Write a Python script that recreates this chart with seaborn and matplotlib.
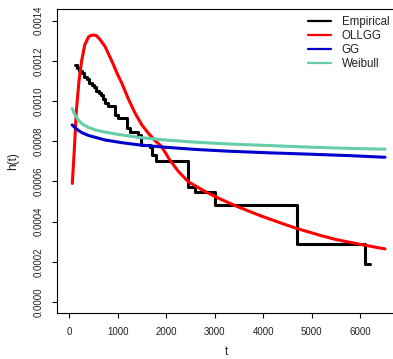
import matplotlib
matplotlib.use("Agg")
import matplotlib.pyplot as plt
from matplotlib.lines import Line2D
import seaborn as sns

# Empirical hazard (step function knots)
emp_t = [111, 160, 210, 260, 310, 360, 410, 460, 510, 560, 610, 661, 700, 737,
         806, 943, 1012, 1185, 1250, 1420, 1480, 1666, 1700, 1790, 2457, 2595,
         3007, 4693, 6103, 6207]
emp_h = [0.00118, 0.001165, 0.00115, 0.00114, 0.00112, 0.00111, 0.00109, 0.00108,
         0.00107, 0.00105, 0.00104, 0.00103, 0.00101, 0.00099, 0.000975, 0.00093,
         0.000914, 0.000865, 0.000845, 0.00083, 0.00078, 0.000773, 0.00073,
         0.000703, 0.000574, 0.000549, 0.000483, 0.000289, 0.000189, 0.000189]

# OLLGG fitted hazard
ollgg_t = [62, 103, 145, 200, 255, 320, 400, 460, 510, 560, 620, 740, 875, 1000, 1081,
           1219, 1356, 1500, 1631, 1780, 1900, 2078, 2250, 2457, 2800, 3100, 3455,
           3936, 4400, 4693, 5200, 5519, 6000, 6516]
ollgg_h = [0.00059, 0.000756, 0.000949, 0.00110, 0.00120, 0.00128, 0.00132, 0.001327,
           0.001328, 0.001325, 0.00131, 0.00127, 0.00120, 0.00113, 0.00109, 0.00101,
           0.00094, 0.00088, 0.00084, 0.00080, 0.000775, 0.000705, 0.00065, 0.000598,
           0.00055, 0.000514, 0.000476, 0.00043, 0.00039, 0.000366, 0.00033, 0.00031,
           0.000287, 0.000264]

# GG fitted hazard
gg_t = [58, 150, 255, 400, 737, 1100, 1425, 1975, 2600, 3300, 4143, 5000, 5800, 6516]
gg_h = [0.000881, 0.00086, 0.000843, 0.000828, 0.000806, 0.000792, 0.000782, 0.00077,
        0.000759, 0.00075, 0.000742, 0.000735, 0.000728, 0.00072]

# Weibull fitted hazard
wei_t = [58, 120, 186, 270, 392, 550, 737, 1000, 1425, 1975, 2600, 3300, 4143, 5000,
         5800, 6516]
wei_h = [0.000963, 0.00093, 0.000905, 0.000885, 0.000869, 0.000855, 0.000845, 0.000834,
         0.000819, 0.000806, 0.000795, 0.000786, 0.000778, 0.00077, 0.000764, 0.00076]

x_ticks = [0, 1000, 2000, 3000, 4000, 5000, 6000]
y_ticks = [0.0000, 0.0002, 0.0004, 0.0006, 0.0008, 0.0010, 0.0012, 0.0014]

labels = ["Empirical", "OLLGG", "GG", "Weibull"]
colors = ["#000000", "#FF0000", "#0000CD", "#66CDAA"]

sns.set_theme(style="white")
plt.rcParams["font.family"] = ["Liberation Sans", "DejaVu Sans"]

W, H = 393, 359
fig = plt.figure(figsize=(W / 100, H / 100), dpi=100)
left, right, top, bottom = 56.7, 393.0, 9.3, 312.7
ax = fig.add_axes([left / W, 1 - bottom / H, (right - left) / W, (bottom - top) / H])

lw = 2.2
sns.lineplot(x=emp_t, y=emp_h, color=colors[0], lw=lw, ax=ax, estimator=None,
             sort=False, drawstyle="steps-post")
sns.lineplot(x=ollgg_t, y=ollgg_h, color=colors[1], lw=lw, ax=ax, estimator=None, sort=False)
sns.lineplot(x=gg_t, y=gg_h, color=colors[2], lw=lw, ax=ax, estimator=None, sort=False)
sns.lineplot(x=wei_t, y=wei_h, color=colors[3], lw=lw, ax=ax, estimator=None, sort=False)

ax.set_xlim(-260, 6681)
ax.set_ylim(-0.0000532, 0.001456)
ax.set_xticks(x_ticks)
ax.set_xticklabels([str(v) for v in x_ticks])
ax.set_yticks(y_ticks)
ax.set_yticklabels([f"{v:.4f}" for v in y_ticks], rotation=90, va="center")

for side in ["left", "bottom", "top"]:
    ax.spines[side].set_visible(True)
    ax.spines[side].set_color("black")
    ax.spines[side].set_linewidth(0.8)
ax.spines["right"].set_visible(False)

ax.tick_params(axis="both", direction="out", length=3.8, width=0.8, color="black",
               labelsize=7, labelcolor="#222222")
ax.tick_params(axis="y", pad=5.5)
ax.tick_params(axis="x", pad=6.5)
ax.tick_params(left=True, bottom=True)

ax.set_xlabel("t", fontsize=8.5, color="#222222", va="center")
ax.set_ylabel("h(t)", fontsize=8.5, color="#222222")
ax.xaxis.set_label_coords((226.7 - left) / (right - left), (bottom - 352) / (bottom - top))
ax.yaxis.set_label_coords((19 - left) / (right - left), 0.5)

handles = [Line2D([0], [0], color=c, lw=1.6) for c in colors]
ax.legend(handles, labels, loc="upper left", frameon=False,
          bbox_to_anchor=(308.3 / W, 1 - 16.5 / H), bbox_transform=fig.transFigure,
          borderpad=0, borderaxespad=0, handlelength=2.0, handletextpad=0.9,
          labelspacing=0.15, fontsize=8.3, labelcolor="#222222")

fig.savefig("out.png", dpi=100)
